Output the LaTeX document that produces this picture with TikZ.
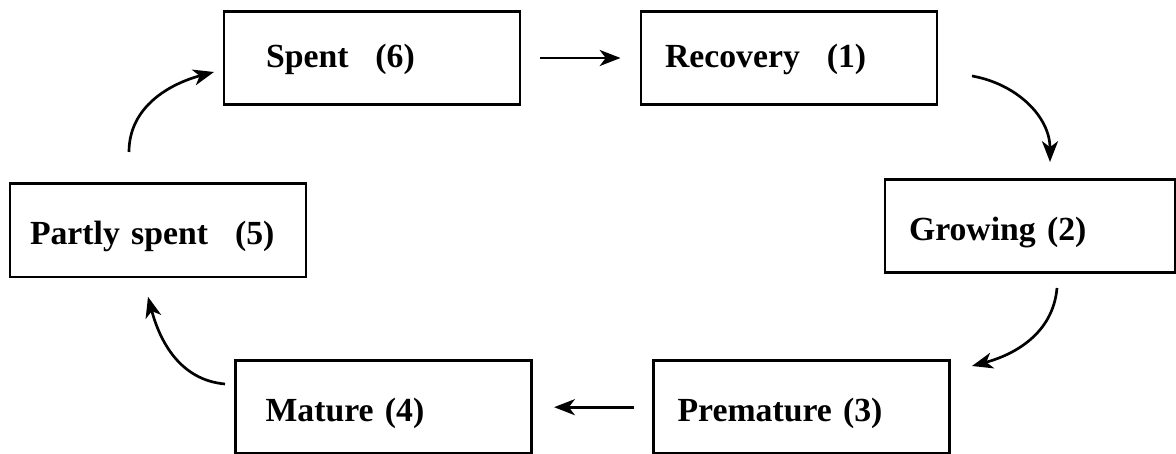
\documentclass[tikz,border=0pt]{standalone}
\usepackage{fontspec}
\setmainfont{Liberation Serif}
\usetikzlibrary{arrows.meta, positioning, calc}

\begin{document}
\begin{tikzpicture}[
  stage/.style={rectangle, draw=black, line width=2.1pt, minimum width=7.4cm, minimum height=2.33cm, text width=6.2cm, inner xsep=0.6cm, text height=0.9cm, text depth=0.18cm, align=left, font=\fontsize{24}{28}\selectfont\bfseries},
  cyclearrow/.style={-{Stealth[length=0.52cm, width=0.4cm, inset=0.15cm]}, line width=1.9pt}
]
\useasboundingbox (0,0) rectangle (29.4,11.35);

% Stages of the cycle
\node[stage, text height=0.66cm] (spent) at (9.3,9.9) {\hspace*{0.45cm}Spent\hspace{0.8em}(6)};
\node[stage, text height=0.66cm] (recovery) at (19.725,9.9) {Recovery\hspace{0.8em}(1)};
\node[stage, minimum width=7.25cm, text width=6.05cm] (growing) at (25.75,5.7) {Growing (2)};
\node[stage] (premature) at (20.04,1.17) {Premature (3)};
\node[stage] (mature) at (9.59,1.17) {\hspace*{0.15cm}Mature (4)};
\node[stage] (partly) at (3.95,5.59) {\hspace*{-0.1cm}Partly spent\hspace{0.8em}(5)};

% Free ends of the curved arrows
\coordinate (p out) at (3.225,7.55);
\coordinate (s in) at (5.35,9.55);
\coordinate (r out) at (24.3,9.45);
\coordinate (g in) at (26.25,7.3);
\coordinate (g out) at (26.425,4.15);
\coordinate (pm in) at (24.3,2.2);
\coordinate (m out) at (5.625,1.75);
\coordinate (p in) at (3.7,3.93);

% Arrows
\draw[cyclearrow, shorten <=0.475cm, shorten >=0.475cm] (spent) -- (recovery);
\draw[cyclearrow] (r out) to[out=-10, in=90] (g in);
\draw[cyclearrow] (g out) to[out=-95, in=15] (pm in);
\draw[cyclearrow, shorten <=0.45cm, shorten >=0.525cm] (premature.west) -- (premature.west -| mature.east);
\draw[cyclearrow] (m out) to[out=175, in=-75] (p in);
\draw[cyclearrow] (p out) to[out=90, in=195] (s in);

\end{tikzpicture}
\end{document}
